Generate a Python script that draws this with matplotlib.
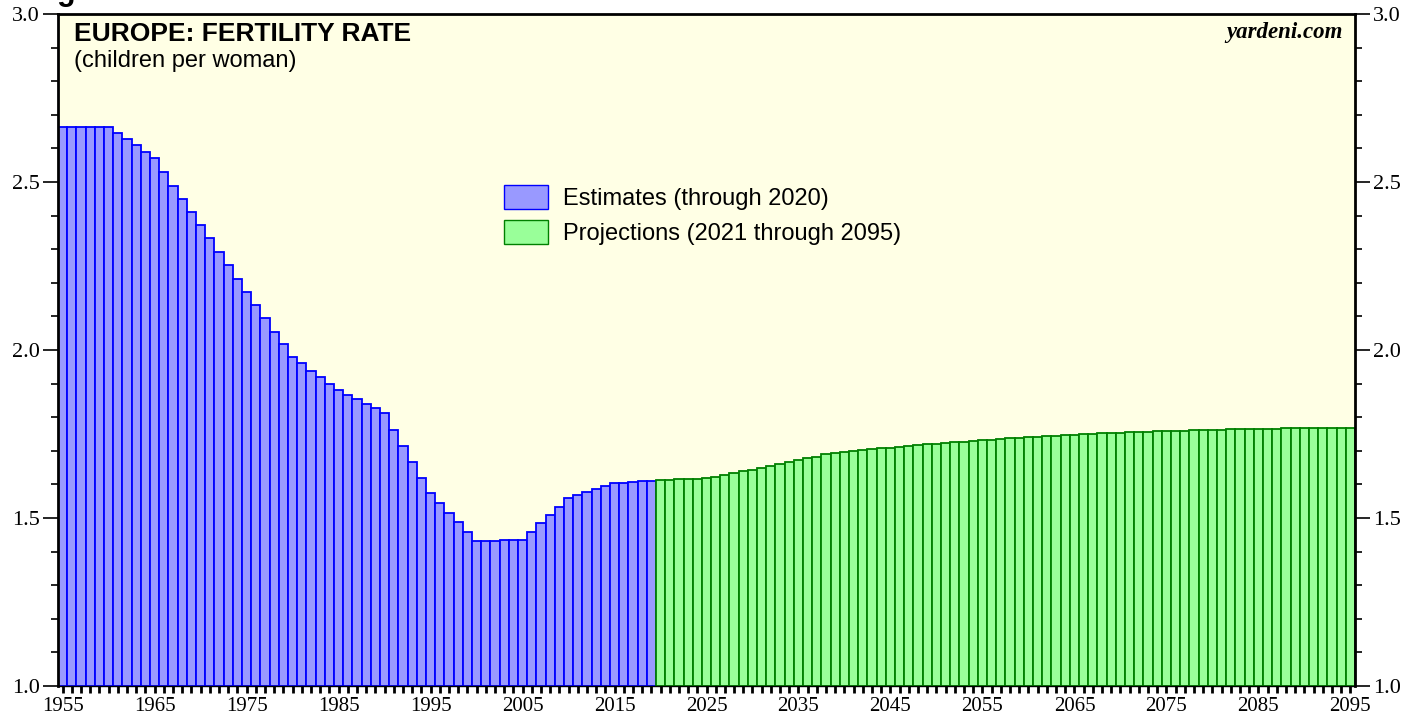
import matplotlib
matplotlib.use("Agg")
import matplotlib.pyplot as plt
from matplotlib.patches import Patch
from matplotlib.ticker import MultipleLocator
import numpy as np

# fertility rate, children per woman
est_years = list(range(1955, 2020))
est_vals = [2.665, 2.665, 2.665, 2.665, 2.665, 2.665, 2.647, 2.628, 2.609, 2.590,
            2.571, 2.531, 2.489, 2.450, 2.411, 2.372, 2.332, 2.292, 2.252, 2.212,
            2.174, 2.134, 2.094, 2.055, 2.017, 1.980, 1.960, 1.938, 1.919, 1.899,
            1.880, 1.866, 1.853, 1.840, 1.826, 1.813, 1.762, 1.713, 1.666, 1.619,
            1.573, 1.545, 1.516, 1.487, 1.459, 1.432, 1.432, 1.432, 1.434, 1.434,
            1.434, 1.459, 1.484, 1.509, 1.534, 1.560, 1.568, 1.576, 1.585, 1.594,
            1.603, 1.605, 1.608, 1.609, 1.611]

proj_years = list(range(2020, 2096))
proj_vals = [1.613, 1.614, 1.615, 1.616, 1.617, 1.618, 1.623, 1.628, 1.633, 1.639,
             1.644, 1.650, 1.656, 1.662, 1.668, 1.674, 1.680, 1.683, 1.689, 1.692,
             1.697, 1.700, 1.702, 1.705, 1.707, 1.709, 1.712, 1.713, 1.716, 1.719,
             1.721, 1.724, 1.725, 1.727, 1.730, 1.732, 1.733, 1.735, 1.737, 1.739,
             1.741, 1.742, 1.744, 1.745, 1.746, 1.748, 1.750, 1.751, 1.752, 1.753,
             1.754, 1.755, 1.756, 1.757, 1.758, 1.759, 1.760, 1.760, 1.761, 1.762,
             1.762, 1.763, 1.764, 1.764, 1.765, 1.765, 1.766, 1.766, 1.767, 1.767,
             1.768, 1.768, 1.768, 1.769, 1.769, 1.769]

year_labels = list(range(1955, 2096, 10))

base = 1.0

fig = plt.figure(figsize=(14.21, 7.19), dpi=100)
ax = fig.add_axes([58/1421, 1 - 686/719, 1297/1421, 672/719])
ax.set_facecolor('#ffffe5')

ax.bar(est_years, np.array(est_vals) - base, bottom=base, width=1.0,
       color='#9999ff', edgecolor='#0000ff', linewidth=1.3)
ax.bar(proj_years, np.array(proj_vals) - base, bottom=base, width=1.0,
       color='#99ff99', edgecolor='#008000', linewidth=1.3)

ax.set_xlim(1954.5, 2095.5)
ax.set_ylim(1.0, 3.0)

ax.set_xticks(year_labels)
ax.set_xticklabels([str(y) for y in year_labels])
ax.xaxis.set_minor_locator(MultipleLocator(1))
ax.tick_params(axis='x', which='both', direction='out', length=5, width=2,
               color='black', labelsize=15, pad=3)

ax.yaxis.set_major_locator(MultipleLocator(0.5))
ax.yaxis.set_minor_locator(MultipleLocator(0.1))
ax.yaxis.set_major_formatter(matplotlib.ticker.FormatStrFormatter('%.1f'))
ax.tick_params(axis='y', which='major', direction='out', length=11, width=1.2,
               left=True, right=True, labelleft=True, labelright=True,
               labelsize=16, pad=2)
ax.tick_params(axis='y', which='minor', direction='out', length=5, width=1.2,
               left=True, right=True)

for lab in ax.get_xticklabels() + ax.get_yticklabels():
    lab.set_fontfamily('Liberation Serif')

for s in ['left', 'right', 'top']:
    ax.spines[s].set_linewidth(2)
ax.spines['bottom'].set_linewidth(1)

ax.text(0.012, 0.988, 'EUROPE: FERTILITY RATE', transform=ax.transAxes,
        fontsize=19, fontweight='bold', family='Liberation Sans', va='top', ha='left')
ax.text(0.012, 0.946, '(children per woman)', transform=ax.transAxes,
        fontsize=17, family='Liberation Sans', va='top', ha='left')
ax.text(0.9908, 0.988, 'yardeni.com', transform=ax.transAxes,
        fontsize=16.5, fontweight='bold', fontstyle='italic', family='Liberation Serif',
        va='top', ha='right')

# caption above the chart, mostly outside the picture as in the original
fig.text(30/1421, 1.0, 'Figure', fontsize=22, fontweight='bold',
         family='Liberation Sans', va='baseline', ha='left')

handles = [Patch(facecolor='#9999ff', edgecolor='#0000ff', linewidth=1),
           Patch(facecolor='#99ff99', edgecolor='#008000', linewidth=1)]
ax.legend(handles, ['Estimates (through 2020)', 'Projections (2021 through 2095)'],
          loc='upper left', bbox_to_anchor=(0.344, 0.7455), frameon=False,
          borderpad=0, borderaxespad=0, handlelength=1.86, handleheight=1.19,
          handletextpad=0.64, labelspacing=0.42,
          prop={'family': 'Liberation Sans', 'size': 17})

fig.savefig('out.png', dpi=100, facecolor='white')
